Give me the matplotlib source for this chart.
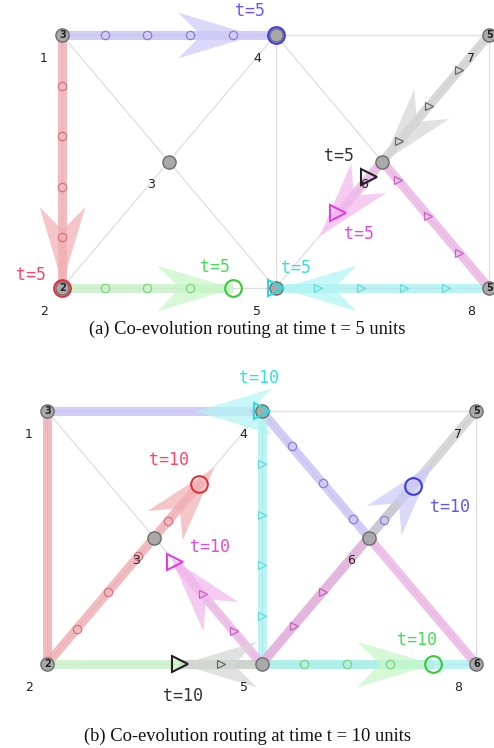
import numpy as np
import matplotlib
matplotlib.use("Agg")
import matplotlib.pyplot as plt
from matplotlib.path import Path
from matplotlib.markers import MarkerStyle
from matplotlib.transforms import Affine2D

# ---------------- data ----------------
NODE_IDS = [1, 2, 3, 4, 5, 6, 7, 8]
NODE_X = [0.0, 0.0, 0.5, 1.0, 1.0, 1.5, 2.0, 2.0]
NODE_Y = [2.0, 0.0, 1.0, 2.0, 0.0, 1.0, 2.0, 0.0]
EDGES = [(1, 4), (4, 7), (1, 2), (4, 5), (7, 8), (2, 5), (5, 8),
         (1, 3), (3, 4), (2, 3), (3, 5), (4, 6), (6, 7), (5, 6), (6, 8)]
NODE_COUNTS_A = {1: "3", 2: "2", 7: "5", 8: "5"}
NODE_COUNTS_B = {1: "3", 2: "2", 7: "5", 8: "6"}

ROUTES = ["blue", "red", "green", "cyan", "gray", "pink"]
MARK_SHAPE = {"blue": "o", "red": "o", "green": "o",
              "cyan": ">", "gray": ">", "pink": ">"}

# panel (a): t = 5  -- (from node, to node, start fraction, end fraction)
A_BANDS = {
    "blue": [(1, 4, 0, 1)],
    "red": [(1, 2, 0, 1)],
    "green": [(2, 5, 0, 0.8)],
    "cyan": [(8, 5, 0, 1)],
    "gray": [(7, 6, 0, 1)],
    "pink": [(8, 6, 0, 1), (6, 5, 0, 0.45)],
}
A_MARKS = {  # (from, to, fraction)
    "blue": [(1, 4, 0.2), (1, 4, 0.4), (1, 4, 0.6), (1, 4, 0.8)],
    "red": [(1, 2, 0.2), (1, 2, 0.4), (1, 2, 0.6), (1, 2, 0.8)],
    "green": [(2, 5, 0.2), (2, 5, 0.4), (2, 5, 0.6)],
    "cyan": [(8, 5, 0.2), (8, 5, 0.4), (8, 5, 0.6), (8, 5, 0.8)],
    "gray": [(7, 6, 0.28), (7, 6, 0.56), (7, 6, 0.84)],
    "pink": [(8, 6, 0.28), (8, 6, 0.57), (8, 6, 0.85)],
}
A_HEADS = {
    "blue": (1, 4, 0.9), "red": (1, 2, 0.98), "green": (2, 5, 0.8),
    "cyan": (8, 5, 0.98), "gray": (7, 6, 1.0), "pink": (6, 5, 0.59),
}
A_NOW = {
    "blue": (1, 4, 1.0), "red": (1, 2, 1.0), "green": (2, 5, 0.8),
    "cyan": (8, 5, 1.0), "gray": (6, 5, 0.12), "pink": (6, 5, 0.41),
}
A_LABEL = "t=5"

# panel (b): t = 10
B_BANDS = {
    "blue": [(1, 4, 0, 1), (4, 6, 0, 1), (6, 7, 0, 0.45)],
    "red": [(1, 2, 0, 1), (2, 3, 0, 1), (3, 4, 0, 0.45)],
    "green": [(2, 5, 0, 1), (5, 8, 0, 0.8)],
    "cyan": [(8, 5, 0, 1), (5, 4, 0, 1)],
    "gray": [(7, 6, 0, 1), (6, 5, 0, 1), (5, 2, 0, 0.38)],
    "pink": [(8, 6, 0, 1), (6, 5, 0, 1), (5, 3, 0, 0.8)],
}
B_MARKS = {
    "blue": [(4, 6, 0.28), (4, 6, 0.57), (4, 6, 0.85), (6, 7, 0.14)],
    "red": [(2, 3, 0.28), (2, 3, 0.57), (2, 3, 0.85), (3, 4, 0.13)],
    "green": [(5, 8, 0.2), (5, 8, 0.4), (5, 8, 0.6)],
    "cyan": [(5, 4, 0.19), (5, 4, 0.39), (5, 4, 0.59), (5, 4, 0.79)],
    "gray": [(5, 2, 0.19)],
    "pink": [(5, 6, 0.3), (5, 6, 0.57), (5, 3, 0.26), (5, 3, 0.55)],
}
B_HEADS = {
    "blue": (6, 7, 0.6), "red": (3, 4, 0.56), "green": (5, 8, 0.8),
    "cyan": (4, 1, 0.31), "gray": (5, 2, 0.38), "pink": (5, 3, 0.84),
}
B_NOW = {
    "blue": (6, 7, 0.41), "red": (3, 4, 0.42), "green": (5, 8, 0.8),
    "cyan": (5, 4, 1.0), "gray": (5, 2, 0.38), "pink": (5, 3, 0.81),
}
B_LABEL = "t=10"

CAPTION_A = "(a) Co-evolution routing at time t = 5 units"
CAPTION_B = "(b) Co-evolution routing at time t = 10 units"

# ---------------- style ----------------
BAND_COL = {"blue": "#c3bdf3", "red": "#eea5aa", "green": "#c2f0c2",
            "cyan": "#a6eff0", "gray": "#cbcbcb", "pink": "#e9ade1"}
HEAD_COL = {"blue": "#cfcaf8", "red": "#f2b0b4", "green": "#c8f6c8",
            "cyan": "#b2f4f4", "gray": "#d6d6d6", "pink": "#f3b8ee"}
MARK_COL = {"blue": "#7b72d6", "red": "#d36570", "green": "#6ccf6c",
            "cyan": "#55d8d8", "gray": "#555555", "pink": "#c050c0"}
NOW_COL = {"blue": "#3b3be0", "red": "#e0303c", "green": "#33cc33",
           "cyan": "#22dddd", "gray": "#222222", "pink": "#e040e0"}
LABEL_COL = {"blue": "#6655ee", "red": "#ff4466", "green": "#44dd55",
             "cyan": "#33e0e0", "gray": "#333333", "pink": "#e048e0"}
NOW_SHAPE = {"blue": "o", "red": "o", "green": "o",
             "cyan": ">", "gray": ">", "pink": ">"}
# label offsets in pixels (right, down) from the current-position marker
A_LABEL_OFF = {"blue": (-26, -24), "red": (-31, -13), "green": (-18, -21),
               "cyan": (21, -20), "gray": (-30, -21), "pink": (21, 21)}
B_LABEL_OFF = {"blue": (37, 21), "red": (-30, -24), "green": (-16, -24),
               "cyan": (-3, -33), "gray": (3, 32), "pink": (35, -15)}

HEAD_PATH = Path([(0, 0), (-1, 0.3), (-0.7, 0.0), (-1, -0.3), (0, 0)],
                 [Path.MOVETO, Path.LINETO, Path.LINETO, Path.LINETO, Path.CLOSEPOLY])

POS = {n: (x, y) for n, x, y in zip(NODE_IDS, NODE_X, NODE_Y)}


def along(u, v, f):
    x0, y0 = POS[u]
    x1, y1 = POS[v]
    return x0 + f * (x1 - x0), y0 + f * (y1 - y0)


def draw_panel(ax, bands, marks, heads, now, label, label_off, counts):
    # base graph
    for u, v in EDGES:
        ax.plot([POS[u][0], POS[v][0]], [POS[u][1], POS[v][1]],
                color="#dedede", lw=0.9, zorder=1)
    # bands
    for r in ROUTES:
        for u, v, f0, f1 in bands[r]:
            p0 = along(u, v, f0)
            p1 = along(u, v, f1)
            ax.plot([p0[0], p1[0]], [p0[1], p1[1]], color=BAND_COL[r],
                    lw=6.5, alpha=0.75, solid_capstyle="butt", zorder=2)
    # arrow heads
    for r in ROUTES:
        u, v, f = heads[r]
        tip = along(u, v, f)
        d = ax.transData.transform([POS[v]]) - ax.transData.transform([POS[u]])
        ang = np.degrees(np.arctan2(d[0, 1], d[0, 0]))
        m = MarkerStyle(HEAD_PATH, transform=Affine2D().rotate_deg(ang))
        ax.plot([tip[0]], [tip[1]], marker=m, ms=110, color=HEAD_COL[r],
                markeredgewidth=0, alpha=0.72, linestyle="none", zorder=3)
    # waypoint marks
    for r in ROUTES:
        for u, v, f in marks[r]:
            p = along(u, v, f)
            ax.plot([p[0]], [p[1]], marker=MARK_SHAPE[r], ms=6, mfc="none",
                    mec=MARK_COL[r], mew=0.9, alpha=0.85, linestyle="none", zorder=4)
    # nodes
    ax.plot(NODE_X, NODE_Y, "o", ms=9.5, mfc="#a9a9a9", mec="#6d6d6d",
            mew=1.0, linestyle="none", zorder=5)
    for n, x, y in zip(NODE_IDS, NODE_X, NODE_Y):
        ax.annotate(str(n), (x, y), xytext=(-18 * 0.72, -23.5 * 0.72),
                    textcoords="offset points", ha="center", va="center",
                    fontsize=9, color="#222222", family="DejaVu Sans", zorder=8)
        if n in counts:
            ax.annotate(counts[n], (x, y), xytext=(0.8, 0),
                        textcoords="offset points", ha="center", va="center",
                        fontsize=7, weight="bold", color="#222222", zorder=6)
    # current positions + labels
    for r in ROUTES:
        u, v, f = now[r]
        p = along(u, v, f)
        shape = NOW_SHAPE[r]
        ax.plot([p[0]], [p[1]], marker=shape, ms=12 if shape == "o" else 11,
                mfc="none", mec=NOW_COL[r], mew=1.5, linestyle="none", zorder=7)
        dx, dy = label_off[r]
        ax.annotate(label, p, xytext=(dx * 0.72, -dy * 0.72),
                    textcoords="offset points", ha="center", va="center",
                    fontsize=12, color=LABEL_COL[r], family="DejaVu Sans Mono",
                    zorder=9)
    ax.axis("off")


fig = plt.figure(figsize=(4.94, 7.48), dpi=100)
fig.patch.set_facecolor("white")

axA = fig.add_axes([0, 1 - 330 / 748, 1, 330 / 748])
axA.set_xlim(-62 / 213.5, (494 - 62) / 213.5)
axA.set_ylim((288 - 330) / 126.5, 2 + 35 / 126.5)

axB = fig.add_axes([0, 1 - 715 / 748, 1, 370 / 748])
axB.set_xlim(-47 / 214.5, (494 - 47) / 214.5)
axB.set_ylim((664 - 715) / 126.5, 2 + (411 - 345) / 126.5)

draw_panel(axA, A_BANDS, A_MARKS, A_HEADS, A_NOW, A_LABEL, A_LABEL_OFF, NODE_COUNTS_A)
draw_panel(axB, B_BANDS, B_MARKS, B_HEADS, B_NOW, B_LABEL, B_LABEL_OFF, NODE_COUNTS_B)

fig.text(0.5, 1 - 329.5 / 748, CAPTION_A, ha="center", va="center",
         fontsize=13.3, family="Liberation Serif", color="#111111")
fig.text(0.5, 1 - 736 / 748, CAPTION_B, ha="center", va="center",
         fontsize=13.3, family="Liberation Serif", color="#111111")

fig.savefig("out.png", dpi=100)
